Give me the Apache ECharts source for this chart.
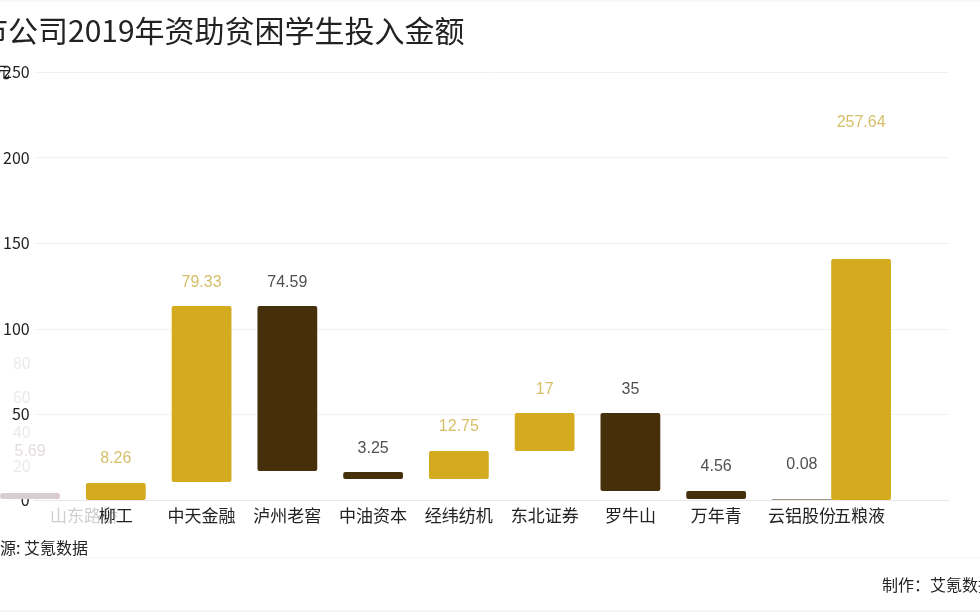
<!DOCTYPE html>
<html><head><meta charset="utf-8">
<script src="https://cdn.jsdelivr.net/npm/echarts@6/dist/echarts.min.js"></script>
<style>html,body{margin:0;padding:0;background:#fff}#c{width:980px;height:612px}</style>
</head><body><div id="c"></div>
<script>
// ---- data (one frame of an animated chart) ----
const categories = ['山东路桥','柳工','中天金融','泸州老窖','中油资本','经纬纺机','东北证券','罗牛山','万年青','云铝股份','五粮液'];
const amounts    = [5.69, 8.26, 79.33, 74.59, 3.25, 12.75, 17, 35, 4.56, 0.08, 257.64];
const groups     = ['fade','gold','gold','dark','dark','gold','gold','dark','dark','dark','gold'];
// animated state of each mark, in axis units
const barSlot    = [0, 1, 2, 3, 4, 5, 6, 7, 8, 9, 9.69];
const nameSlot   = [0.63, 1, 2, 3, 4, 5, 6, 7, 8, 9, 9.67];
const barLow     = [0.6, 0, 10.5, 16.9, 12.3, 12.3, 28.6, 5.3, 0.6, 0, 0];
const barHigh    = [4.1, 9.9, 113.3, 113.3, 16.4, 28.6, 50.8, 50.8, 5.3, 0.3, 140.8];
const labelLevel = [28.0, 23.9, 126.8, 126.8, 29.8, 42.6, 64.3, 64.3, 19.3, 20.4, 220.2];
const fadingTicks = [20, 40, 60, 80];

const CJK = '"Noto Sans CJK SC","Noto Sans",sans-serif';
const barColor   = {gold:'#D4AA1E', dark:'#45300B', fade:'#D9CDCD'};
const labelColor = {gold:'#D6BE68', dark:'#505050', fade:'#E4DCDC'};
const nameColor  = {gold:'#222', dark:'#222', fade:'#CFCFCF'};

const seriesData = categories.map((c, i) => [barSlot[i], barLow[i], barHigh[i], labelLevel[i], nameSlot[i]]);

const chart = echarts.init(document.getElementById('c'));
chart.setOption({
  backgroundColor: '#fff',
  animation: false,
  grid: {left: 31, right: 31, top: 72, bottom: 112},
  xAxis: {
    type: 'value', min: 0.0534, max: 10.715,
    axisLine: {show: true, onZero: false, lineStyle: {color: '#E8E8E8'}},
    axisTick: {show: false}, axisLabel: {show: false}, splitLine: {show: false}
  },
  yAxis: [{
    type: 'value', min: 0, max: 250, interval: 50,
    axisLine: {show: false}, axisTick: {show: false},
    axisLabel: {color: '#222', fontSize: 16, margin: 5, fontFamily: CJK},
    splitLine: {lineStyle: {color: '#F1F1F1'}}
  }, {
    type: 'value', min: 0, max: 250, interval: 20, position: 'left',
    axisLine: {show: false}, axisTick: {show: false}, splitLine: {show: false},
    axisLabel: {color: '#EBEBEB', fontSize: 16, margin: 4, fontFamily: CJK,
      formatter: v => fadingTicks.indexOf(v) >= 0 ? String(v) : ''}
  }],
  series: [{
    type: 'custom',
    clip: false,
    data: seriesData,
    encode: {x: 0, y: [1, 2]},
    renderItem: function (params, api) {
      const i = params.dataIndex;
      const g = groups[i];
      const x = api.value(0);
      const p0 = api.coord([x, api.value(1)]);
      const p1 = api.coord([x, api.value(2)]);
      const w = api.size([0.697, 0])[0];
      const lp = api.coord([x, api.value(3)]);
      const np = api.coord([api.value(4), 0]);
      return {
        type: 'group',
        children: [{
          type: 'rect',
          shape: {x: p0[0] - w / 2, y: p1[1], width: w, height: Math.max(0.3, p0[1] - p1[1]), r: 2},
          style: {fill: barColor[g]}
        }, {
          type: 'text',
          style: {text: String(amounts[i]), x: lp[0], y: lp[1], fill: labelColor[g],
            font: '16px "Liberation Sans", Arial, sans-serif', align: 'center', verticalAlign: 'middle',
            textAlign: 'center', textVerticalAlign: 'middle'}
        }, {
          type: 'text',
          style: {text: categories[i], x: np[0], y: np[1] + 16, fill: nameColor[g],
            font: '17px ' + CJK, align: 'center', verticalAlign: 'middle',
            textAlign: 'center', textVerticalAlign: 'middle'}
        }]
      };
    }
  }],
  graphic: [
    {type: 'text', x: -52, y: 31, style: {text: '上市公司2019年资助贫困学生投入金额', fill: '#222', font: '30px ' + CJK, verticalAlign: 'middle', textVerticalAlign: 'middle'}},
    {type: 'text', x: 10, y: 72, style: {text: '万元', fill: '#222', font: '16px ' + CJK, align: 'right', verticalAlign: 'middle', textAlign: 'right', textVerticalAlign: 'middle'}},
    {type: 'text', x: -16, y: 548, style: {text: '来源: 艾氪数据', fill: '#222', font: '16px ' + CJK, verticalAlign: 'middle', textVerticalAlign: 'middle'}},
    {type: 'text', x: 882, y: 585, style: {text: '制作：艾氪数据', fill: '#222', font: '16px ' + CJK, verticalAlign: 'middle', textVerticalAlign: 'middle'}},
    {type: 'line', shape: {x1: 0, y1: 1, x2: 980, y2: 1}, style: {stroke: '#EEEEEE', lineWidth: 1}},
    {type: 'line', shape: {x1: 0, y1: 558, x2: 980, y2: 558}, style: {stroke: '#F2F2F2', lineWidth: 1}},
    {type: 'line', shape: {x1: 0, y1: 611, x2: 980, y2: 611}, style: {stroke: '#E6E6E6', lineWidth: 1}}
  ]
});
</script></body></html>
